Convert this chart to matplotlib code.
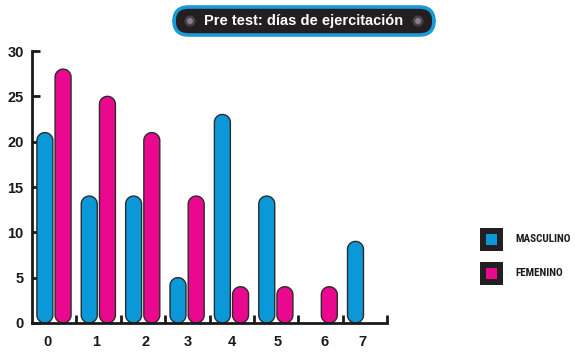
import numpy as np
import matplotlib
matplotlib.use("Agg")
import matplotlib.pyplot as plt
from matplotlib.patches import FancyBboxPatch, Rectangle, Ellipse, Polygon
from matplotlib import font_manager as fm

categories = ["0", "1", "2", "3", "4", "5", "6", "7"]
masculino = [21, 14, 14, 5, 23, 14, np.nan, 9]
femenino = [28, 25, 21, 14, 4, 4, 4, np.nan]
yticks = [0, 5, 10, 15, 20, 25, 30]
title = "Pre test: días de ejercitación"
legend_labels = ["MASCULINO", "FEMENINO"]

BLUE = "#0b98d8"
MAG = "#e9088e"
DARK = "#231f20"
EDGE = "#2b2b2b"

names = {f.name for f in fm.fontManager.ttflist}
narrow = [n for n in ["Liberation Sans Narrow", "Roboto Condensed", "Open Sans Condensed",
                      "Noto Sans Condensed", "DejaVu Sans Condensed"] if n in names]
NARROW_FAM = narrow + ["DejaVu Sans"]

W, H, DPI = 575, 353, 100
fig = plt.figure(figsize=(W / DPI, H / DPI), dpi=DPI)
ax = fig.add_axes([32 / W, 1 - 323 / H, (387 - 32) / W, (323 - 51) / H])
ax.set_xlim(0, 8)
ax.set_ylim(0, 30)

pxx = (387 - 32) / 8.0
pxy = (323 - 51) / 30.0

bw = 0.36
x = np.arange(len(categories))
off_m, off_f = 0.29, 0.70
# in-group offsets of the category labels (style, as in the original layout)
label_shift = [0.36, 0.44, 0.55, 0.50, 0.51, 0.53, 0.59, 0.45]

def pill_bars(xs, vals, color):
    bars = ax.bar(xs, np.nan_to_num(vals), width=bw, color=color)
    for b, v in zip(bars, vals):
        b.set_visible(False)
        if np.isnan(v) or v <= 0:
            continue
        x0, y0, w, h = b.get_x(), b.get_y(), b.get_width(), b.get_height()
        rx = w / 2
        ry = rx * pxx / pxy
        ry = min(ry, h / 2)
        cx = x0 + rx
        t = np.linspace(0, np.pi, 40)
        top = np.column_stack([cx + rx * np.cos(t), y0 + h - ry + ry * np.sin(t)])
        bot = np.column_stack([cx - rx * np.cos(t), y0 + ry - ry * np.sin(t)])
        p = Polygon(np.vstack([top, bot]), closed=True, facecolor=color,
                    edgecolor=EDGE, linewidth=1.0, zorder=2, clip_on=False)
        ax.add_patch(p)

pill_bars(x + off_m, masculino, BLUE)
pill_bars(x + off_f, femenino, MAG)

for s in ["top", "right"]:
    ax.spines[s].set_visible(False)
for s in ["left", "bottom"]:
    ax.spines[s].set_linewidth(2)
    ax.spines[s].set_color("#1a1a1a")
    ax.spines[s].set_zorder(3)

ax.set_yticks(yticks)
ax.set_yticklabels([str(t) for t in yticks])
ax.set_xticks(np.arange(1, 9))
ax.set_xticklabels([])
ax.set_xticks(x + np.array(label_shift), minor=True)
ax.set_xticklabels(categories, minor=True)
ax.tick_params(axis="both", which="major", direction="in", length=6, width=2, color="#1a1a1a")
ax.tick_params(axis="x", which="minor", length=0, pad=9)
ax.tick_params(axis="y", which="major", pad=6)
for lab in ax.get_yticklabels() + ax.get_xticklabels(minor=True):
    lab.set_fontsize(10.5)
    lab.set_fontweight("bold")
    lab.set_color("#1a1a1a")
    lab.set_family(["Liberation Sans", "DejaVu Sans"])

# title box
tb = FancyBboxPatch((174 / W, 1 - 35 / H), (434 - 174) / W, 28 / H,
                    boxstyle="round,pad=0,rounding_size=0.025",
                    mutation_aspect=W / H,
                    transform=fig.transFigure, facecolor=DARK,
                    edgecolor="#1a9ad6", linewidth=2.6)
fig.patches.append(tb)
for cx in (190, 418):
    fig.patches.append(Ellipse((cx / W, 1 - 21 / H), 11 / W, 11 / H, transform=fig.transFigure,
                               facecolor="#4a4048", edgecolor="none"))
    fig.patches.append(Ellipse((cx / W, 1 - 21 / H), 6 / W, 6 / H, transform=fig.transFigure,
                               facecolor="#8a7f8a", edgecolor="none"))
fig.text(304 / W, 1 - 21 / H, title, ha="center", va="center", color="white",
         fontsize=10.5, fontweight="bold", family=["Liberation Sans", "DejaVu Sans"])

# legend
for i, (lab, col) in enumerate(zip(legend_labels, [BLUE, MAG])):
    y0 = 228 + i * 34
    fig.patches.append(Rectangle((480 / W, 1 - (y0 + 23) / H), 23 / W, 23 / H,
                                 transform=fig.transFigure, facecolor=DARK, edgecolor="none"))
    fig.patches.append(Rectangle((486 / W, 1 - (y0 + 17) / H), 11 / W, 11 / H,
                                 transform=fig.transFigure, facecolor=col, edgecolor="none"))
    fig.text(515 / W, 1 - (y0 + 11.5) / H, lab, ha="left", va="center", color="#1a1a1a",
             fontsize=8, fontweight="bold", fontstretch="condensed",
             family=NARROW_FAM)

fig.savefig("out.png", dpi=DPI)
